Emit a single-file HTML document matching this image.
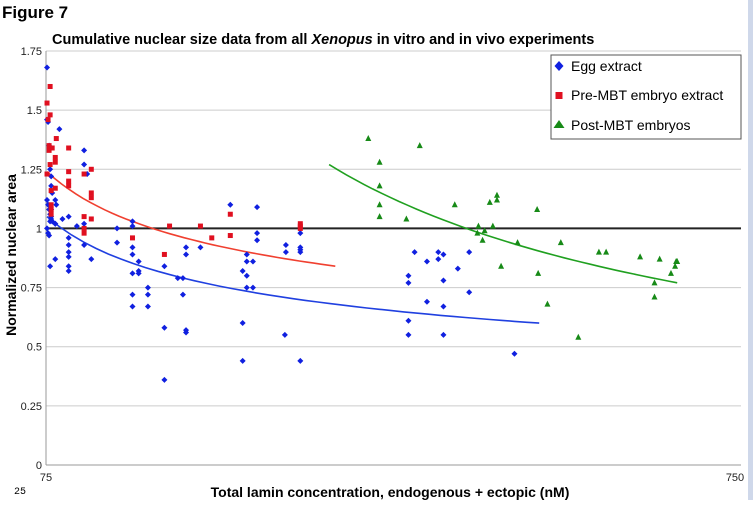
<!DOCTYPE html>
<html><head><meta charset="utf-8"><style>
body{margin:0;background:#fff;width:753px;height:500px;overflow:hidden;font-family:"Liberation Sans",sans-serif}
</style></head><body>
<svg width="753" height="500" xmlns="http://www.w3.org/2000/svg" font-family="Liberation Sans, sans-serif">
<rect x="748" y="0" width="5" height="500" fill="#cfd8ea"/>
<text x="2" y="18" font-size="17" font-weight="bold">Figure 7</text>
<text x="52" y="44" font-size="14.5" font-weight="bold">Cumulative nuclear size data from all <tspan font-style="italic">Xenopus</tspan> in vitro and in vivo experiments</text>
<g id="grid"></g>
<g id="axes"></g>
<g id="fits"></g>
<g id="marks"></g>
<text transform="translate(16,255) rotate(-90)" font-size="14" font-weight="bold" text-anchor="middle">Normalized nuclear area</text>
<text x="390" y="497" font-size="14" font-weight="bold" text-anchor="middle">Total lamin concentration, endogenous + ectopic (nM)</text>
<text x="14" y="494" font-size="10" font-family="Liberation Mono, monospace">25</text>
<g>
<rect x="551" y="55" width="190" height="84" fill="#fff" stroke="#555" stroke-width="1"/>
<path d="M559,61 L563.5,66 L559,71 L554.5,66Z" fill="#1020e0"/>
<text x="571" y="71" font-size="14">Egg extract</text>
<rect x="555.5" y="92" width="7" height="7" fill="#e01020"/>
<text x="571" y="100" font-size="14">Pre-MBT embryo extract</text>
<path d="M559,120 L564.5,128 L553.5,128Z" fill="#178a17"/>
<text x="571" y="130" font-size="14">Post-MBT embryos</text>
</g>
</svg>
<script>
const yTicks=[0,0.25,0.5,0.75,1,1.25,1.5,1.75];
const yTickLabels=["0","0.25","0.5","0.75","1","1.25","1.5","1.75"];
const xTicks=[75,750];
const xTickLabels=["75","750"];
const eggX=[76,76,77,78,79,80,80,81,76,77,78,79,80,81,84,84,85,88,76,77,78,79,80,84,79,84,80,91,97,97,97,97,97,97,97,105,112,112,119,144,144,159,159,159,159,159,159,159,165,165,165,174,174,174,190,190,190,203,208,208,211,211,211,211,225,254,266,270,270,270,270,266,266,276,276,280,280,280,308,308,307,322,322,322,322,322,112,112,115,433,445,456,456,461,475,486,427,427,461,486,445,461,427,427,461,530];
const eggY=[1.68,1.46,1.45,1.35,1.25,1.22,1.18,1.15,1.12,1.1,1.08,1.06,1.04,1.03,1.02,1.12,1.1,1.42,1.0,0.98,0.97,1.03,1.05,1.02,0.84,0.87,1.08,1.04,1.05,0.96,0.93,0.9,0.88,0.84,0.82,1.01,1.02,0.93,0.87,1.0,0.94,1.03,1.01,0.92,0.89,0.81,0.72,0.67,0.86,0.82,0.81,0.75,0.72,0.67,0.84,0.58,0.36,0.79,0.79,0.72,0.56,0.57,0.92,0.89,0.92,1.1,0.82,0.89,0.86,0.8,0.75,0.6,0.44,0.86,0.75,1.09,0.98,0.95,0.93,0.9,0.55,0.91,0.98,0.92,0.9,0.44,1.33,1.27,1.23,0.9,0.86,0.9,0.87,0.89,0.83,0.9,0.8,0.77,0.78,0.73,0.69,0.67,0.61,0.55,0.55,0.47];
const preX=[76,79,77,79,85,78,78,81,84,84,79,76,80,84,80,80,80,97,97,97,97,112,119,119,119,112,112,112,119,159,190,195,225,236,254,254,322,322,322];
const preY=[1.53,1.6,1.46,1.48,1.38,1.35,1.33,1.34,1.3,1.28,1.27,1.23,1.16,1.17,1.1,1.08,1.06,1.34,1.24,1.2,1.18,1.23,1.25,1.15,1.13,1.05,1.0,0.98,1.04,0.96,0.89,1.01,1.01,0.96,1.06,0.97,1.02,1.01,1.0];
const postX=[388,399,399,399,399,425,438,472,506,513,513,552,495,501,509,494,499,533,575,612,619,652,671,687,517,553,562,592,666,666,682,686,688];
const postY=[1.38,1.28,1.18,1.1,1.05,1.04,1.35,1.1,1.11,1.14,1.12,1.08,1.01,0.99,1.01,0.98,0.95,0.94,0.94,0.9,0.9,0.88,0.87,0.86,0.84,0.81,0.68,0.54,0.77,0.71,0.81,0.84,0.86];
const fitRanges=[[76,554],[76,356],[350,688]];
const fitStart=[1.05,1.24,1.27];
const fitExp=[-0.282,-0.252,-0.74];
const fitColors=["#2040e0","#f04030","#20a020"];

const NS="http://www.w3.org/2000/svg";
const X0=46,X1=741,Y0=465,Y1=51;
function xs(v){return X0+(v-75)/(750-75)*(X1-X0);}
function ys(v){return Y0-v/1.75*(Y0-Y1);}
function mk(tag,attrs,parent){const e=document.createElementNS(NS,tag);for(const k in attrs)e.setAttribute(k,attrs[k]);document.getElementById(parent).appendChild(e);return e;}

yTicks.forEach((t,i)=>{
  if(t!==1){const g=mk('line',{x1:X0,x2:X1,y1:ys(t),y2:ys(t),stroke:t===0?'#999':'#ccc','stroke-width':1},'grid');
  
  }
  const l=mk('text',{x:X0-4,y:ys(t)+4,'font-size':11,'text-anchor':'end',fill:'#222'},'axes');
  l.textContent=yTickLabels[i];
  
  
});
const ax=mk('line',{x1:X0,x2:X0,y1:Y1,y2:Y0,stroke:'#999','stroke-width':1},'axes');


xTicks.forEach((t,i)=>{
  const l=mk('text',{x:xs(t)+(i?-6:0),y:481,'font-size':11,'text-anchor':'middle',fill:'#222'},'axes');
  l.textContent=xTickLabels[i];
  
  
});
const ref=mk('line',{x1:X0,x2:X1,y1:ys(1),y2:ys(1),stroke:'#222','stroke-width':2},'grid');



const fitNames=['egg-trendline','pre-mbt-trendline','post-mbt-trendline'];
fitRanges.forEach((r,i)=>{
  let d='';const n=40;
  for(let k=0;k<=n;k++){const x=r[0]+(r[1]-r[0])*k/n;const y=fitStart[i]*Math.pow(x/r[0],fitExp[i]);d+=(k?'L':'M')+xs(x).toFixed(1)+','+ys(y).toFixed(1);}
  const p=mk('path',{d:d,fill:'none',stroke:fitColors[i],'stroke-width':1.6},'fits');
  
  
});
eggX.forEach((x,i)=>{
  const cx=xs(x),cy=ys(eggY[i]);
  const p=mk('path',{d:`M${cx},${cy-3}L${cx+3},${cy}L${cx},${cy+3}L${cx-3},${cy}Z`,fill:'#1020e0'},'marks');
  
  
});
preX.forEach((x,i)=>{
  const cx=xs(x),cy=ys(preY[i]);
  const p=mk('rect',{x:cx-2.5,y:cy-2.5,width:5,height:5,fill:'#e01020'},'marks');
  
  
});
postX.forEach((x,i)=>{
  const cx=xs(x),cy=ys(postY[i]);
  const p=mk('path',{d:`M${cx},${cy-3.5}L${cx+3},${cy+2.5}L${cx-3},${cy+2.5}Z`,fill:'#178a17'},'marks');
  
  
});
</script>
</body></html>
